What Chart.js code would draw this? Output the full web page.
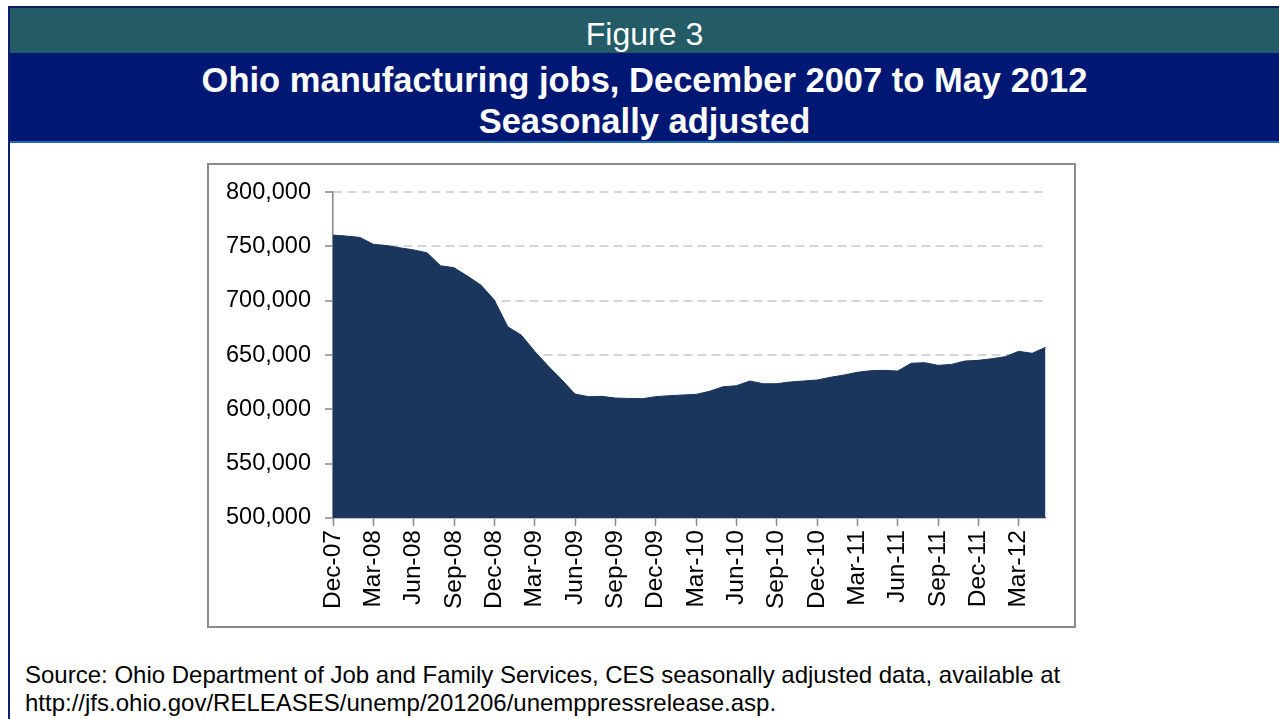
<!DOCTYPE html>
<html>
<head>
<meta charset="utf-8">
<script src="https://cdn.jsdelivr.net/npm/chart.js@4.4.0/dist/chart.umd.min.js"></script>
<style>
  body { margin: 0; background: #fff; font-family: "Liberation Sans", Arial, sans-serif; }
  #page { position: relative; width: 1279px; height: 719px; overflow: hidden; }
  .topline { position: absolute; left: 8px; top: 6px; width: 1271px; height: 2px; background: #0b1f5c; }
  .leftline { position: absolute; left: 8px; top: 6px; width: 2px; height: 713px; background: #0b1f6e; }
  .band1 { position: absolute; left: 10px; top: 8px; width: 1269px; height: 45px; background: #235b66;
           color: #fff; font-size: 32px; text-align: center; line-height: 52px; }
  .band2 { position: absolute; left: 10px; top: 53px; width: 1269px; height: 88px; background: #001874;
           color: #fff; font-size: 34.5px; font-weight: bold; text-align: center; line-height: 41px;
           padding-top: 7px; box-sizing: border-box; }
  .blueline { position: absolute; left: 10px; top: 141px; width: 1269px; height: 2px; background: #1f6bb3; }
  .box { position: absolute; left: 207px; top: 163px; width: 869px; height: 465px; border: 2px solid #8c8c8c; box-sizing: border-box; }
  .wrap { position: absolute; left: 208px; top: 164px; width: 871px; height: 462px; }
  .source { position: absolute; left: 25px; top: 661px; font-size: 24px; line-height: 28px; color: #000; }
</style>
</head>
<body>
<div id="page">
  <div class="band1">Figure 3</div>
  <div class="band2">Ohio manufacturing jobs, December 2007 to May 2012<br>Seasonally adjusted</div>
  <div class="blueline"></div>
  <div class="topline"></div>
  <div class="leftline"></div>
  <div class="box"></div>
  <div class="wrap"><canvas id="jobsChart" width="871" height="462"></canvas></div>
  <div class="source">Source: Ohio Department of Job and Family Services, CES seasonally adjusted data, available at<br>http://jfs.ohio.gov/RELEASES/unemp/201206/unemppressrelease.asp.</div>
</div>
<script>
// mesi da dicembre 2007 a maggio 2012
const months = [
  'Dec-07',
  'Jan-08', 'Feb-08', 'Mar-08', 'Apr-08', 'May-08', 'Jun-08', 'Jul-08', 'Aug-08', 'Sep-08', 'Oct-08', 'Nov-08', 'Dec-08',
  'Jan-09', 'Feb-09', 'Mar-09', 'Apr-09', 'May-09', 'Jun-09', 'Jul-09', 'Aug-09', 'Sep-09', 'Oct-09', 'Nov-09', 'Dec-09',
  'Jan-10', 'Feb-10', 'Mar-10', 'Apr-10', 'May-10', 'Jun-10', 'Jul-10', 'Aug-10', 'Sep-10', 'Oct-10', 'Nov-10', 'Dec-10',
  'Jan-11', 'Feb-11', 'Mar-11', 'Apr-11', 'May-11', 'Jun-11', 'Jul-11', 'Aug-11', 'Sep-11', 'Oct-11', 'Nov-11', 'Dec-11',
  'Jan-12', 'Feb-12', 'Mar-12', 'Apr-12', 'May-12'
];

// posti di lavoro manifatturieri (destagionalizzati)
const jobs = [
  760400,
  759500, 758300, 751900, 750800, 748700, 746800, 744100, 732200, 730400, 722700, 714400, 700600,
  676000, 668400, 653400, 640000, 627500, 614100, 611700, 612000, 610400, 610100, 609800, 611700,
  612600, 613200, 613800, 616600, 620800, 621700, 626100, 623600, 623600, 625200, 626100, 627000,
  629500, 631600, 634100, 635600, 635900, 635300, 642400, 643000, 640500, 641400, 644500, 645100,
  646600, 648500, 653400, 651600, 657100
];

const yMin = 500000;
const yMax = 800000;
const yStep = 50000;

const axisGray = '#868686';
const fontFamily = '"Liberation Sans", Arial, sans-serif';

const ctx = document.getElementById('jobsChart').getContext('2d');
const jobsChart = new Chart(ctx, {
    type: 'line',
    data: {
        labels: months,
        datasets: [{
            label: 'Ohio manufacturing jobs',
            data: jobs,
            borderColor: '#1a365d',
            backgroundColor: '#1a365d',
            borderWidth: 1,
            pointRadius: 0,
            tension: 0,
            fill: 'start'
        }]
    },
    options: {
        responsive: false,
        animation: false,
        layout: { padding: { top: 28, right: 33, left: 0, bottom: 0 } },
        plugins: {
            legend: { display: false },
            tooltip: { enabled: false }
        },
        scales: {
            x: {
                offset: false,
                afterFit: (scale) => { scale.height = 108; },
                grid: {
                    drawOnChartArea: false,
                    tickLength: 8,
                    tickWidth: 1.5,
                    tickColor: (c) => (c.index % 3 === 0 ? axisGray : 'rgba(0,0,0,0)')
                },
                border: { color: axisGray, width: 1.5 },
                ticks: {
                    autoSkip: false,
                    maxRotation: 90,
                    minRotation: 90,
                    padding: 4,
                    color: '#000',
                    font: { family: fontFamily, size: 24.5 },
                    callback: function (value, index) {
                        return index % 3 === 0 ? this.getLabelForValue(value) : '';
                    }
                }
            },
            y: {
                min: yMin,
                max: yMax,
                afterFit: (scale) => { scale.width = 125; },
                grid: {
                    color: (c) => (c.index === 0 ? 'rgba(0,0,0,0)' : '#d6d6d6'),
                    lineWidth: 2,
                    tickLength: 8,
                    tickWidth: 1.5,
                    tickColor: axisGray
                },
                border: { color: axisGray, width: 1.5, dash: [9, 5] },
                ticks: {
                    stepSize: yStep,
                    padding: 14,
                    color: '#000',
                    font: { family: fontFamily, size: 23.5 },
                    callback: (value) => value.toLocaleString('en-US')
                }
            }
        }
    }
});
</script>
</body>
</html>
